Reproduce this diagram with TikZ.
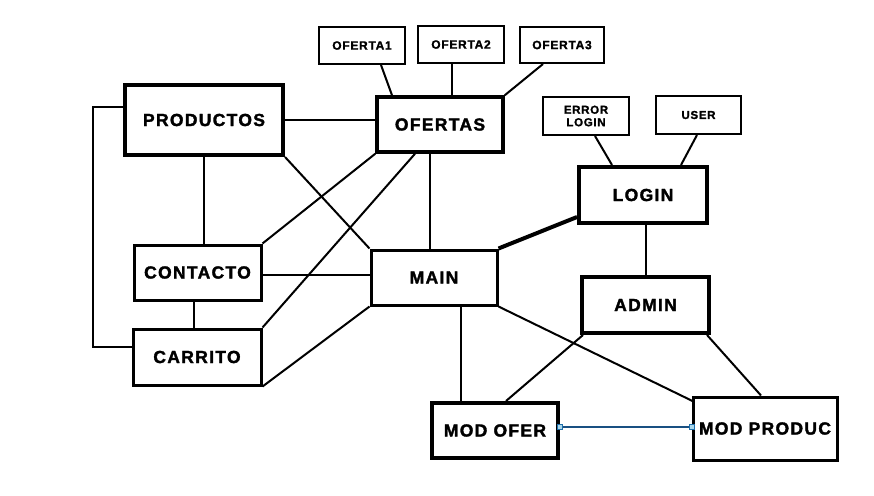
\documentclass[tikz,border=0pt]{standalone}
\usepackage{fontspec}
\setmainfont{Liberation Sans}[LetterSpace=7.5, BoldFeatures={FakeBold=1.8}]
\newfontfamily\smallfam{Liberation Sans}[LetterSpace=6, BoldFeatures={FakeBold=1.5}]
\begin{document}
\begin{tikzpicture}[x=1pt,y=-1pt,
  big/.style={draw, rectangle, inner sep=0pt, font=\fontsize{17.5}{20}\selectfont\bfseries},
  small/.style={draw, rectangle, line width=2pt, inner sep=0pt, align=center, font=\smallfam\fontsize{12}{12}\selectfont\bfseries},
  link/.style={line width=2pt},
  thicklink/.style={line width=4pt},
  bluelink/.style={line width=1.2pt, draw={rgb,255:red,25;green,80;blue,130}},
  handle/.style={draw={rgb,255:red,30;green,110;blue,170}, fill={rgb,255:red,170;green,215;blue,235}, line width=0.8pt, minimum size=5pt, inner sep=0pt}
]
\useasboundingbox[fill=white] (0,0) rectangle (874,495);

% nodes
\node[big, line width=4pt, minimum width=158pt, minimum height=70pt] (prod) at (204,120) {PRODUCTOS};
\node[big, line width=3.5pt, minimum width=126pt, minimum height=55pt] (ofertas) at (440,124.5) {OFERTAS};
\node[small, minimum width=86pt, minimum height=37pt] (of1) at (362,45.5) {OFERTA1};
\node[small, minimum width=86pt, minimum height=37pt] (of2) at (461,44.5) {OFERTA2};
\node[small, minimum width=84pt, minimum height=36pt] (of3) at (562,45) {OFERTA3};
\node[small, minimum width=86pt, minimum height=38pt, font=\smallfam\fontsize{11.5}{12.5}\selectfont\bfseries] (err) at (586,116) {ERROR\\LOGIN};
\node[small, minimum width=85pt, minimum height=38pt, font=\smallfam\fontsize{11.5}{12.5}\selectfont\bfseries] (user) at (698.5,115) {USER};
\node[big, line width=4pt, minimum width=128pt, minimum height=56pt] (login) at (643,195) {LOGIN};
\node[big, line width=4pt, minimum width=127pt, minimum height=56pt] (admin) at (645.5,305) {ADMIN};
\node[big, line width=3pt, minimum width=126pt, minimum height=55pt] (main) at (434,277.5) {MAIN};
\node[big, line width=3pt, minimum width=127pt, minimum height=55pt] (contacto) at (197.5,272.5) {CONTACTO};
\node[big, line width=3pt, minimum width=128pt, minimum height=56pt] (carrito) at (197,357) {CARRITO};
\node[big, line width=4pt, minimum width=126pt, minimum height=55pt] (modofer) at (495,430.5) {MOD OFER};
\node[big, line width=3pt, minimum width=144pt, minimum height=63pt] (modprod) at (765,428.5) {MOD PRODUC};

% connectors
\draw[link] ([yshift=13pt]prod.west) -- ++(-30,0) |- ([yshift=10pt]carrito.west);
\draw[link] (prod.east) -- (prod.east -| ofertas.west);
\draw[link] (prod.south) -- (prod.south |- contacto.north);
\draw[link] (prod.south east) -- (main.north west);
\draw[link] (ofertas.south west) -- (contacto.north east);
\draw[link] ([xshift=-25pt]ofertas.south) -- (carrito.north east);
\draw[link] ([xshift=-10pt]ofertas.south) -- ([xshift=-10pt]ofertas.south |- main.north);
\draw[link] ([xshift=19pt]of1.south) -- ([xshift=-48pt]ofertas.north);
\draw[link] ([xshift=-9pt]of2.south) -- ([xshift=-9pt]of2.south |- ofertas.north);
\draw[link] ([xshift=-19pt]of3.south) -- (ofertas.north east);
\draw[link] ([yshift=-2pt]contacto.east) -- ([yshift=-2pt]contacto.east -| main.west);
\draw[link] ([xshift=-3.5pt]contacto.south) -- ([xshift=-3.5pt]contacto.south |- carrito.north);
\draw[link] (carrito.south east) -- (main.south west);
\draw[thicklink] (main.north east) -- ([yshift=-22pt]login.west);
\draw[link] ([xshift=27pt]main.south) -- ([xshift=27pt]main.south |- modofer.north);
\draw[link] (main.south east) -- ([xshift=2pt,yshift=-6pt]modprod.north west);
\draw[link] ([xshift=3pt]login.south) -- ([xshift=3pt]login.south |- admin.north);
\draw[link] ([xshift=9pt]err.south) -- ([xshift=-31pt]login.north);
\draw[link] ([xshift=-1.5pt]user.south) -- ([xshift=38pt]login.north);
\draw[link] ([xshift=3pt]admin.south west) -- ([xshift=11pt]modofer.north);
\draw[link] ([xshift=-4pt]admin.south east) -- ([xshift=-4pt]modprod.north);
\coordinate (bl) at ([yshift=3.5pt]modofer.east);
\coordinate (br) at (bl -| modprod.west);
\draw[bluelink] (bl) -- (br);
\node[handle] (h1) at (bl) {};
\node[handle] (h2) at (br) {};
\end{tikzpicture}
\end{document}
